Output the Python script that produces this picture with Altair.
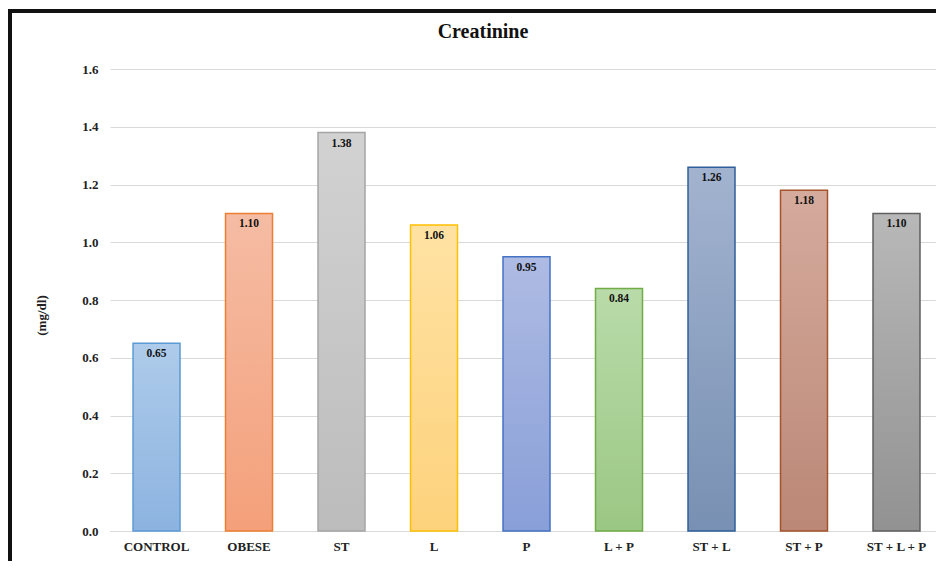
import altair as alt
import pandas as pd

chart_title = ["Creatinine"]
groups = ["CONTROL", "OBESE", "ST", "L", "P", "L + P", "ST + L", "ST + P", "ST + L + P"]
values = [0.65, 1.10, 1.38, 1.06, 0.95, 0.84, 1.26, 1.18, 1.10]
labels = ["0.65", "1.10", "1.38", "1.06", "0.95", "0.84", "1.26", "1.18", "1.10"]
top_colors = ["#aecbea", "#f5bca4", "#d2d2d2", "#ffe2a3", "#aebbe3", "#b9dba9", "#a2b3cf", "#d5ab9d", "#b8b8b8"]
bottom_colors = ["#8cb3e0", "#f4a07a", "#bcbcbc", "#fdd27c", "#899fd8", "#9bc784", "#7890b3", "#bb8776", "#929292"]
stroke_colors = ["#5b9bd5", "#ed7d31", "#a5a5a5", "#ffc000", "#4472c4", "#70ad47", "#2e5f9a", "#a5532a", "#5f5f5f"]

df = pd.DataFrame({"group": groups, "value": values, "label": labels})
title_df = pd.DataFrame({"t": chart_title})

FONT = "Liberation Serif"
W, H = 826, 462

x_enc = alt.X("group:N", sort=groups,
              scale=alt.Scale(paddingInner=0.492, paddingOuter=0.211, align=0.59),
              axis=alt.Axis(title=None, labelAngle=0, labelFont=FONT, labelFontSize=13,
                            labelFontWeight="bold", labelColor="#222222", ticks=False,
                            labelPadding=9, domainColor="#d9d9d9", domainWidth=1))
y_enc = alt.Y("value:Q", scale=alt.Scale(domain=[0, 1.6], nice=False),
              axis=alt.Axis(title="(mg/dl)", values=[0, 0.2, 0.4, 0.6, 0.8, 1.0, 1.2, 1.4, 1.6],
                            format=".1f", labelFont=FONT, labelFontSize=13, labelFontWeight="bold",
                            labelColor="#222222", ticks=False, labelPadding=12, domain=False,
                            gridColor="#d9d9d9", gridWidth=1,
                            titleFont=FONT, titleFontSize=13, titleFontWeight="bold",
                            titleColor="#222222", titleX=-62, titleY=246))

border = alt.Chart(df).mark_rect(fill=None, stroke="#111111", strokeWidth=4, clip=False).encode(
    x=alt.value(-100.5), x2=alt.value(W + 60), y=alt.value(-58), y2=alt.value(H + 80)
)

layers = [border]
for g, tc, bc, sc in zip(groups, top_colors, bottom_colors, stroke_colors):
    grad = alt.Gradient(gradient="linear",
                        stops=[alt.GradientStop(color=tc, offset=0),
                               alt.GradientStop(color=bc, offset=1)],
                        x1=0, x2=0, y1=0, y2=1)
    layers.append(
        alt.Chart(df).transform_filter(alt.datum.group == g)
        .mark_bar(fill=grad, stroke=sc, strokeWidth=1.5)
        .encode(x=x_enc, y=y_enc)
    )

text = alt.Chart(df).mark_text(font=FONT, fontSize=11.5, fontWeight="bold", color="#111111",
                               baseline="middle", dy=11).encode(
    x=alt.X("group:N", sort=groups), y="value:Q", text="label:N")
layers.append(text)

title_mark = alt.Chart(title_df).mark_text(font=FONT, fontSize=20, fontWeight="bold",
                                           color="#111111", baseline="alphabetic",
                                           align="center").encode(
    x=alt.value(373), y=alt.value(-31), text="t:N")
layers.append(title_mark)

chart = alt.layer(*layers).properties(
    width=W, height=H,
    padding={"left": 102, "top": 61, "right": 0, "bottom": 30},
    autosize="none",
).configure_view(stroke=None)

chart.save("out.html", embed_options={"renderer": "svg", "actions": False})
